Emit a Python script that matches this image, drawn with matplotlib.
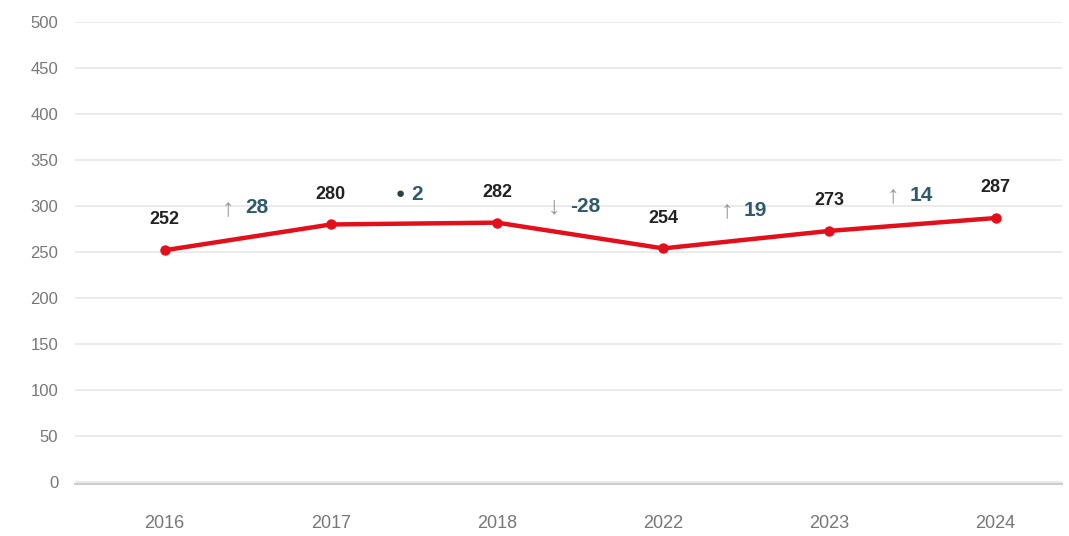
import matplotlib
matplotlib.use("Agg")
import matplotlib.pyplot as plt

years = ["2016", "2017", "2018", "2022", "2023", "2024"]
values = [252, 280, 282, 254, 273, 287]
yticks = [0, 50, 100, 150, 200, 250, 300, 350, 400, 450, 500]

plt.rcParams['font.family'] = ['Liberation Sans', 'DejaVu Sans']

fig = plt.figure(figsize=(10.69, 5.36), dpi=100)
ax = fig.add_axes([75/1069, 1-484/536, (1062-75)/1069, (484-22)/536])
x = list(range(len(years)))
ax.plot(x, values, color='#e3101c', lw=3.2, marker='o', ms=6.5, zorder=3)
ax.set_xlim(-0.54, 5.40)
ax.set_ylim(-2, 500)
ax.set_yticks(yticks)
ax.set_yticklabels([str(t) for t in yticks])
ax.set_xticks(x)
ax.set_xticklabels(years)
ax.tick_params(axis='both', length=0, labelsize=12, labelcolor='#777777')
ax.tick_params(axis='x', pad=22, labelsize=13)
ax.tick_params(axis='y', pad=12)
for s in ['top', 'right', 'left']:
    ax.spines[s].set_visible(False)
ax.spines['bottom'].set_color('#cccccc')
ax.spines['bottom'].set_linewidth(1.5)
ax.grid(axis='y', color='#e8e8e8', lw=1.2)
ax.set_axisbelow(True)

for xi, v in zip(x, values):
    ax.annotate(str(v), (xi, v + 33), ha='center', va='center',
                fontsize=13, fontweight='bold', color='#222222')

for i in range(len(values) - 1):
    d = values[i + 1] - values[i]
    mid = i + 0.5
    yv = (values[i] + values[i + 1]) / 2 + 32
    if abs(d) <= 5:
        sym, scol, fs, off = '●', '#2a3f4a', 11, -10
    elif d > 0:
        sym, scol, fs, off = '↑', '#9a9a9a', 18, -14
    else:
        sym, scol, fs, off = '↓', '#9a9a9a', 18, -19
    ax.annotate(sym, (mid, yv), xytext=(off, 0), textcoords='offset points',
                ha='center', va='center', fontsize=fs, color=scol)
    ax.annotate(str(d), (mid, yv), xytext=(-2 if d >= 0 else -7, 0), textcoords='offset points',
                ha='left', va='center', fontsize=15, fontweight='bold', color='#2e5a6c')

fig.savefig("out.png", dpi=100, facecolor='white')
